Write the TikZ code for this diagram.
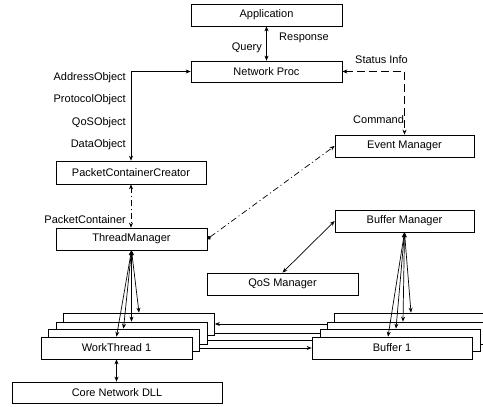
\documentclass[tikz,border=0pt]{standalone}
\usepackage{fontspec}
\setmainfont{Liberation Sans}
\usetikzlibrary{arrows.meta,calc}
\pgfdeclarelayer{bg}
\pgfsetlayers{bg,main}
\begin{document}
\begin{tikzpicture}[x=1pt,y=-1pt,
  box/.style={draw, fill=white, line width=0.7pt, minimum height=22pt, inner sep=0pt, font=\fontsize{11}{13}\selectfont},
  lbl/.style={inner sep=0pt, font=\fontsize{11}{13}\selectfont},
  tip/.style={Stealth[length=5pt,width=4pt]},
  conn/.style={line width=0.7pt, {Stealth[length=5pt,width=4pt]}-{Stealth[length=5pt,width=4pt]}},
  dashline/.style={dash pattern=on 8pt off 4pt},
  dashdot/.style={dash pattern=on 6pt off 3pt on 1pt off 3pt}]
\path[use as bounding box] (0,0) rectangle (483,407);
\clip (0,0) rectangle (483,407);
% top boxes
\node[box, minimum width=151pt] (app) at (266.5,15) {Application};
\node[box, minimum width=151pt, minimum height=21pt] (np) at (266.5,71.5) {Network Proc};
\node[box, minimum width=139pt] (em) at (404.5,146) {Event Manager};
\node[box, minimum width=150pt, minimum height=23pt] (pcc) at (131,172.5) {PacketContainerCreator};
\node[box, minimum width=151pt] (tm) at (131.5,239) {ThreadManager};
\node[box, minimum width=139pt] (bm) at (404.5,221) {Buffer Manager};
\node[box, minimum width=151pt] (qos) at (282.5,284) {QoS Manager};
% work thread stack (back to front)
\node[box, minimum width=151pt] (wt4) at (139,324) {};
\node[box, minimum width=151pt] (wt3) at (131.5,333) {};
\node[box, minimum width=151pt] (wt2) at (123.5,340) {};
\node[box, minimum width=151pt] (wt1) at (116.5,348) {WorkThread 1};
% buffer stack (back to front)
\node[box, minimum width=160pt] (b4) at (414,324) {};
\node[box, minimum width=160pt] (b3) at (407,333) {};
\node[box, minimum width=160pt] (b2) at (400,340) {};
\node[box, minimum width=160pt] (b1) at (392,348) {Buffer 1};
\node[box, minimum width=210pt, minimum height=21pt] (core) at (117,392.5) {Core Network DLL};
% labels
\node[lbl, anchor=east] (lquery) at (262,48) {Query};
\node[lbl, anchor=west] (lresp) at (279,38) {Response};
\node[lbl, anchor=west] (lstat) at (355,60) {Status Info};
\node[lbl, anchor=west] (lcmd) at (353,120) {Command};
\node[lbl, anchor=east] (laddr) at (126,78) {AddressObject};
\node[lbl, anchor=east] (lprot) at (126,100) {ProtocolObject};
\node[lbl, anchor=east] (lqos) at (126,123) {QoSObject};
\node[lbl, anchor=east] (ldata) at (126,145) {DataObject};
\node[lbl, anchor=east] (lpc) at (126,220) {PacketContainer};
% connectors
\draw[conn] (app) -- (np);
\draw[conn] (np.west) -| (pcc.north);
\draw[conn, dashline] (np.east) -| (em.north);
\draw[conn, dashdot] (pcc.south) -- (pcc.south |- tm.north);
\draw[line width=0.7pt, dashdot, {Circle[length=4pt]}-{Stealth[length=5pt,width=4pt]}] (tm.east) -- (em.west);
\draw[conn] (bm.west) -- (qos.north);
\draw[conn] (wt1.south) -- (wt1.south |- core.north);
\foreach \w in {wt1,wt2,wt3,wt4} \draw[conn] (tm.south) -- (\w.north);
\foreach \b/\s in {b1/-4,b2/-4,b3/-4,b4/-3} \draw[conn] (bm.south) -- ([xshift=\s pt]\b.north);
\begin{pgfonlayer}{bg}
\foreach \i in {1,2,3,4} \draw[conn] (wt\i.east) -- (b\i.west);
\end{pgfonlayer}
\end{tikzpicture}
\end{document}
